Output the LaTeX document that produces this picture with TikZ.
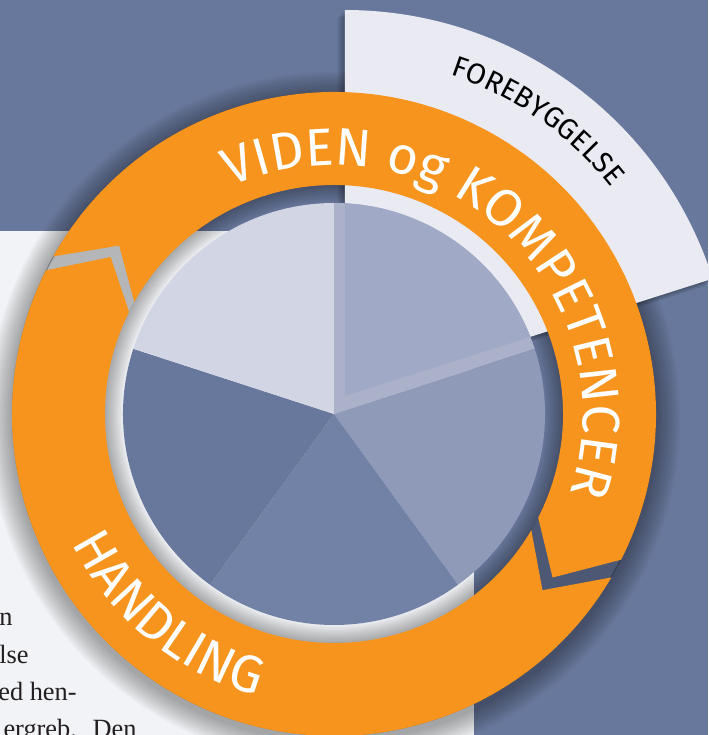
\documentclass[tikz,border=0pt]{standalone}
\usepackage{fontspec}
\setmainfont{Liberation Serif}
\newfontfamily\ringfont{Fira Sans}
\usetikzlibrary{decorations.text}

\definecolor{bgblue}{HTML}{68789C}
\definecolor{panel}{HTML}{F2F3F6}
\definecolor{sector}{HTML}{E9EAF2}
\definecolor{ring}{HTML}{F7941D}
\definecolor{wedgeA}{HTML}{ABB1C9}
\definecolor{wedgeAin}{HTML}{A0AAC6}
\definecolor{wedgeB}{HTML}{8F9AB8}
\definecolor{wedgeC}{HTML}{7282A6}
\definecolor{wedgeD}{HTML}{68789D}
\definecolor{wedgeE}{HTML}{D2D5E3}
\definecolor{bodytext}{HTML}{231F20}

\tikzset{
  softshadow/.style={black,opacity=0.035},
  bodyline/.style={anchor=base east,inner sep=0pt,text=bodytext,font=\fontsize{15}{18}\selectfont},
  ringtext/.style={decorate,decoration={text along path,text align=center,text color=white,
      text={|\ringfont\fontsize{30}{30}\selectfont|#1}}},
  smalltext/.style={decorate,decoration={text along path,text align=center,text color=black,
      text={|\ringfont\fontsize{16.5}{16.5}\selectfont|#1}}},
}

\begin{document}
\begin{tikzpicture}[x=0.02cm,y=0.02cm]
    \useasboundingbox (-334,-321) rectangle (374,414);
    \coordinate (c) at (0,0);
    \coordinate (apex) at (11,18);

    % background and text panel
    \fill[bgblue] (-334,-321) rectangle (374,414);
    \fill[panel] (-334,-330) rectangle (140,183);
    \node[bodyline] (line1) at (-321,-211) {n};
    \node[bodyline] (line2) at (-305,-249) {lse};
    \node[bodyline] (line3) at (-257,-286) {ed hen-};
    \node[bodyline] (line4) at (-197,-323) {ergreb.\hspace{0.6em}Den};

    % shadows of the ring
    \foreach \k in {1,...,10}
        \fill[softshadow,even odd rule] (0,-4) circle[radius=322+2.4*\k] (c) circle[radius=321];
    \foreach \k in {1,...,9}
        \fill[softshadow,even odd rule] (c) circle[radius=229] circle[radius=229-2*\k];
    \fill[black,opacity=0.25,even odd rule] (c) circle[radius=322] circle[radius=229];

    % forebyggelse sector
    \foreach \k in {1,...,5}
        \fill[black,opacity=0.06,shift={(11-1.5*\k,18-1.5*\k)}] (0,0) -- (17.7:386) arc[start angle=17.7,end angle=90,radius=386] -- cycle;
    \fill[sector] (apex) -- ++(17.7:386) arc[start angle=17.7,end angle=90,radius=386] -- cycle;

    % orange ring, two arrows
    \fill[ring] (150.7:322) arc[start angle=150.7,end angle=-26.9,radius=322] -- (-36.8:273)
        -- (-26.9:229) arc[start angle=-26.9,end angle=150.7,radius=229] -- (141.9:273) -- cycle;
    \fill[ring] (-30.5:322) arc[start angle=-30.5,end angle=-206.5,radius=322] -- (-215.1:273)
        -- (-206.5:229) arc[start angle=-206.5,end angle=-30.5,radius=229] -- (-40.2:273) -- cycle;

    % pie
    \fill[wedgeA] (c) -- (18:211) arc[start angle=18,end angle=90,radius=211] -- cycle;
    \begin{scope}
        \clip (c) circle[radius=211];
        \fill[wedgeAin] (apex) -- ++(17.7:500) -- ++(0,500) -- (11,700) -- cycle;
    \end{scope}
    \fill[wedgeB] (c) -- (-54:211) arc[start angle=-54,end angle=18,radius=211] -- cycle;
    \fill[wedgeC] (c) -- (-126:211) arc[start angle=-126,end angle=-54,radius=211] -- cycle;
    \fill[wedgeD] (c) -- (162:211) arc[start angle=162,end angle=234,radius=211] -- cycle;
    \fill[wedgeE] (c) -- (90:211) arc[start angle=90,end angle=162,radius=211] -- cycle;

    % labels along the arcs
    \path[ringtext={VIDEN og KOMPETENCER}] (138:249) arc[start angle=138,end angle=-42,radius=249];
    \path[ringtext={HANDLING}] (190.5:292) arc[start angle=190.5,end angle=270.5,radius=292];
    \path[shift={(apex)},smalltext={FOREBYGGELSE}] (85:338) arc[start angle=85,end angle=25,radius=338];
\end{tikzpicture}
\end{document}
